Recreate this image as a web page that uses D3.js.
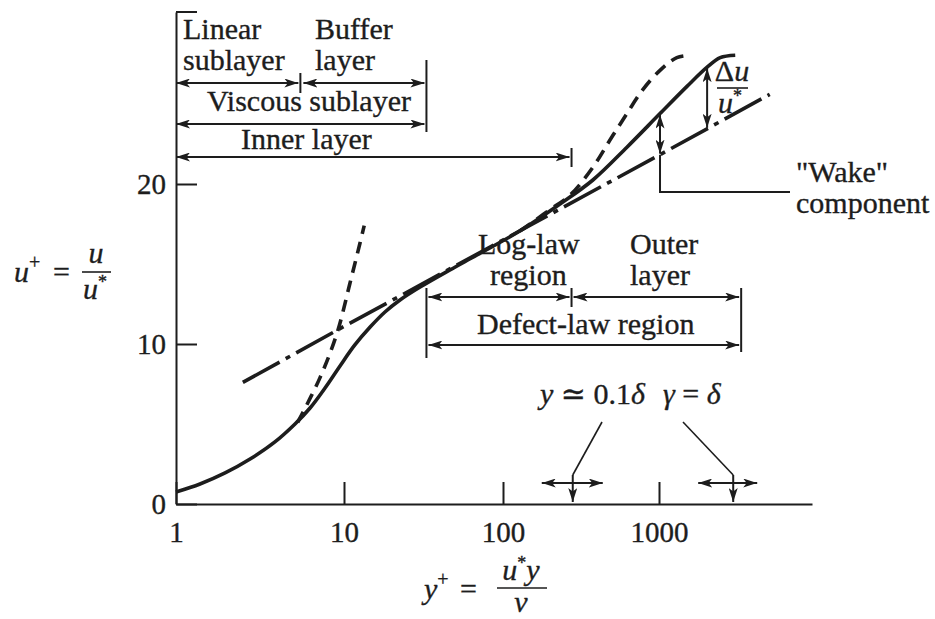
<!DOCTYPE html>
<html>
<head>
<meta charset="utf-8">
<script src="https://cdn.jsdelivr.net/npm/d3@7"></script>
<style>
  html, body { margin: 0; padding: 0; background: #fff; }
  svg { display: block; }
  text { font-family: "Liberation Serif", "DejaVu Serif", serif; fill: #1d1d1d; stroke: #1d1d1d; stroke-width: 0.35px; }
</style>
</head>
<body>
<div id="chart"></div>
<script>
// ---- values (y+, u+) ----
const xTickValues = [1, 10, 100, 1000];
const xTickLabels = ["1", "10", "100", "1000"];
const yTickValues = [0, 10, 20];
const yTickLabels = ["0", "10", "20"];

// measured profile: viscous sublayer -> buffer -> log law -> wake
const profile = [
  [1, 0.75], [1.39, 1.25], [1.96, 1.94], [2.76, 2.81], [3.88, 3.88], [5.11, 5.0],
  [6.28, 6.0], [7.71, 7.25], [9.47, 8.63], [11.7, 9.94], [14.6, 11.06], [18.1, 12.0],
  [22.5, 12.75], [30.1, 13.56], [46.4, 14.63], [68.6, 15.56], [128, 17.06],
  [232, 18.75], [377, 20.25], [623, 22.3], [1015, 24.4], [1510, 26.1], [2030, 27.3],
  [2460, 27.9], [3070, 28.05]
];

// linear law u+ = y+ (dashed, steep)
const linearLaw = [[5.3, 5.1], [7.2, 7.9], [9.1, 10.7], [10.9, 13.8], [12.6, 16.3], [13.4, 17.4]];

// log law (dash-dot)
const logLaw = [[2.5, 7.6], [10, 11.1], [100, 16.5], [1000, 21.8], [5100, 25.6]];

// alternative wake profile (dashed, upper right)
const wakeAlt = [
  [128, 17.06], [149, 17.5], [200, 18.4], [269, 19.3], [377, 21.05], [485, 22.75],
  [623, 24.4], [788, 25.9], [1015, 27.1], [1300, 27.9], [1580, 28.05]
];

// region limits in y+
const layerBounds = [5.5, 33, 275, 3350];   // linear | buffer | log-law | outer edge
const markerYp = [280, 2980];               // y ~ 0.1 delta, y = delta
const wakeArrowYp = [1015, 2030];           // "Wake" leader, delta-u arrow

// ---- layout ----
const width = 935, height = 619;
const x = d3.scaleLog()
  .domain([1, 10, 100, 1000, 9500])
  .range([176, 344, 503, 659, 812]);
const y = d3.scaleLinear().domain([0, 30.75]).range([504, 12]);
const ink = "#1d1d1d";
const fs = 30;

const svg = d3.select("#chart").append("svg")
  .attr("width", width).attr("height", height)
  .attr("viewBox", `0 0 ${width} ${height}`);

svg.append("rect").attr("width", width).attr("height", height).attr("fill", "#fff");

const defs = svg.append("defs");
defs.append("marker")
  .attr("id", "arr")
  .attr("viewBox", "0 0 14 9")
  .attr("refX", 14).attr("refY", 4.5)
  .attr("markerWidth", 14).attr("markerHeight", 9)
  .attr("markerUnits", "userSpaceOnUse")
  .attr("orient", "auto-start-reverse")
  .append("path")
  .attr("d", "M0,0 L14,4.5 L0,9 L3.5,4.5 Z")
  .attr("fill", ink);

// ---- axes ----
const gx = svg.append("g")
  .attr("transform", `translate(0,${y(0)})`)
  .call(d3.axisBottom(x)
    .tickValues(xTickValues)
    .tickFormat((d, i) => xTickLabels[i])
    .tickSizeInner(-22).tickSizeOuter(0).tickPadding(17));

const gy = svg.append("g")
  .attr("transform", `translate(${x(1)},0)`)
  .call(d3.axisLeft(y)
    .tickValues(yTickValues)
    .tickFormat((d, i) => yTickLabels[i])
    .tickSizeInner(-21).tickSizeOuter(0).tickPadding(10));

[gx, gy].forEach((g) => {
  g.attr("font-family", null).attr("font-size", null);
  g.select(".domain").attr("stroke", ink).attr("stroke-width", 2);
  g.selectAll(".tick line").attr("stroke", ink).attr("stroke-width", 2);
  g.selectAll(".tick text").attr("font-size", 29).attr("fill", ink);
});

// little cap at the top of the frame
svg.append("line")
  .attr("x1", x(1)).attr("x2", x(1) + 21)
  .attr("y1", y.range()[1]).attr("y2", y.range()[1])
  .attr("stroke", ink).attr("stroke-width", 2);

// ---- curves ----
const smooth = d3.line()
  .x((d) => x(d[0]))
  .y((d) => y(d[1]))
  .curve(d3.curveCatmullRom.alpha(0.5));
const straight = d3.line()
  .x((d) => x(d[0]))
  .y((d) => y(d[1]));

svg.append("path").datum(logLaw)
  .attr("d", straight)
  .attr("fill", "none").attr("stroke", ink).attr("stroke-width", 3.6)
  .attr("stroke-dasharray", "42,7,5,7");

svg.append("path").datum(profile)
  .attr("d", smooth)
  .attr("fill", "none").attr("stroke", ink).attr("stroke-width", 3.6);

svg.append("path").datum(linearLaw)
  .attr("d", smooth)
  .attr("fill", "none").attr("stroke", ink).attr("stroke-width", 3.6)
  .attr("stroke-dasharray", "12,8");

svg.append("path").datum(wakeAlt)
  .attr("d", smooth)
  .attr("fill", "none").attr("stroke", ink).attr("stroke-width", 3.6)
  .attr("stroke-dasharray", "13,8");

// ---- annotation helpers ----
function seg(x1, y1, x2, y2, ends) {
  const l = svg.append("line")
    .attr("x1", x1).attr("y1", y1).attr("x2", x2).attr("y2", y2)
    .attr("stroke", ink).attr("stroke-width", 2);
  if (ends === "both" || ends === "start") l.attr("marker-start", "url(#arr)");
  if (ends === "both" || ends === "end") l.attr("marker-end", "url(#arr)");
  return l;
}

function label(tx, ty, str, opts = {}) {
  return svg.append("text")
    .attr("x", tx).attr("y", ty)
    .attr("font-size", opts.size || fs)
    .attr("text-anchor", opts.anchor || "start")
    .attr("font-style", opts.italic ? "italic" : null)
    .text(str);
}

function bar(x1, x2, yy) {
  svg.append("line").attr("x1", x1).attr("x2", x2).attr("y1", yy).attr("y2", yy)
    .attr("stroke", ink).attr("stroke-width", 1.6);
}

// "u*" style: italic letter with a small superscript star
function starred(t, letter) {
  t.append("tspan").attr("font-style", "italic").text(letter);
  t.append("tspan").attr("font-size", 18).attr("dy", -11).text("*");
}

const [xLin, xVisc, xInner, xOuter] = layerBounds.map(x);
const x0 = x(1);

// inner-layer brackets (top left)
label(183, 39, "Linear");
label(183, 70, "sublayer");
label(315, 39, "Buffer");
label(315, 70, "layer");
seg(x0, 83, xLin - 2, 83, "both");
seg(xLin, 73, xLin, 93);
seg(xLin + 3, 83, xVisc - 2, 83, "both");
seg(xVisc, 60, xVisc, 132);
label(207, 111, "Viscous sublayer");
seg(x0, 124, xVisc - 2, 124, "both");
label(241, 149, "Inner layer");
seg(x0, 157, xInner - 2, 157, "both");
seg(xInner, 148, xInner, 167);

// outer-layer brackets (middle)
label(478, 254, "Log-law");
label(490, 285, "region");
label(630, 254, "Outer");
label(630, 285, "layer");
seg(xVisc, 288, xVisc, 358);
seg(xOuter, 288, xOuter, 352);
seg(xVisc + 2, 297, xInner - 2, 297, "both");
seg(xInner, 288, xInner, 307);
seg(xInner + 2, 297, xOuter - 2, 297, "both");
label(477, 334, "Defect-law region");
seg(xVisc + 2, 345, xOuter - 2, 345, "both");

// wake component and delta-u
const logAt = d3.scaleLog().domain(logLaw.map((d) => d[0])).range(logLaw.map((d) => d[1]));
const profAt = d3.scaleLog().domain(profile.map((d) => d[0])).range(profile.map((d) => d[1]));

const xw = x(wakeArrowYp[0]);
seg(xw, y(profAt(wakeArrowYp[0])) + 1, xw, y(logAt(wakeArrowYp[0])) - 1, "both");
svg.append("polyline")
  .attr("points", `${xw},${y(logAt(wakeArrowYp[0]))} ${xw},192 790,192`)
  .attr("fill", "none").attr("stroke", ink).attr("stroke-width", 2);
label(796, 182, "\"Wake\"");
label(796, 213, "component");

const xd = x(wakeArrowYp[1]);
seg(xd, y(profAt(wakeArrowYp[1])) + 1, xd, y(logAt(wakeArrowYp[1])) - 1, "both");
const du = label(732, 81, "", { anchor: "middle" });
du.append("tspan").text("\u0394");
du.append("tspan").attr("font-style", "italic").text("u");
bar(717, 748, 88);
label(730, 113, "", { anchor: "middle" }).call(starred, "u");

// boundary-layer markers on the axis (bottom)
const sym1 = label(540, 404, "");
sym1.append("tspan").attr("font-style", "italic").text("y");
sym1.append("tspan").text(" \u2243 0.1");
sym1.append("tspan").attr("font-style", "italic").text("\u03B4");
const sym2 = label(663, 404, "");
sym2.append("tspan").attr("font-style", "italic").text("\u03B3");
sym2.append("tspan").text(" = ");
sym2.append("tspan").attr("font-style", "italic").text("\u03B4");

const xm1 = x(markerYp[0]), xm2 = x(markerYp[1]);
svg.append("polyline")
  .attr("points", `602,422 ${xm1},475`)
  .attr("fill", "none").attr("stroke", ink).attr("stroke-width", 1.6);
seg(xm1, 475, xm1, 502, "end");
seg(xm1 - 31, 483, xm1 + 30, 483, "both");
svg.append("polyline")
  .attr("points", `683,422 ${xm2},475`)
  .attr("fill", "none").attr("stroke", ink).attr("stroke-width", 1.6);
seg(xm2, 475, xm2, 502, "end");
seg(xm2 - 35, 483, xm2 + 24, 483, "both");

// ---- axis titles ----
const yl = label(14, 282, "");
yl.append("tspan").attr("font-style", "italic").text("u");
yl.append("tspan").attr("font-size", 20).attr("dy", -13).text("+");
label(53, 282, "=");
label(96, 263, "u", { italic: true, anchor: "middle" });
bar(82, 111, 272);
label(95, 299, "", { anchor: "middle" }).call(starred, "u");

const xl = label(424, 599, "");
xl.append("tspan").attr("font-style", "italic").text("y");
xl.append("tspan").attr("font-size", 20).attr("dy", -13).text("+");
label(460, 599, "=");
label(521, 580, "", { anchor: "middle" })
  .call((t) => {
    starred(t, "u");
    t.append("tspan").attr("font-style", "italic").attr("dy", 11).text("y");
  });
bar(497, 547, 588);
label(521, 612, "\u03BD", { italic: true, anchor: "middle" });
</script>
</body>
</html>
